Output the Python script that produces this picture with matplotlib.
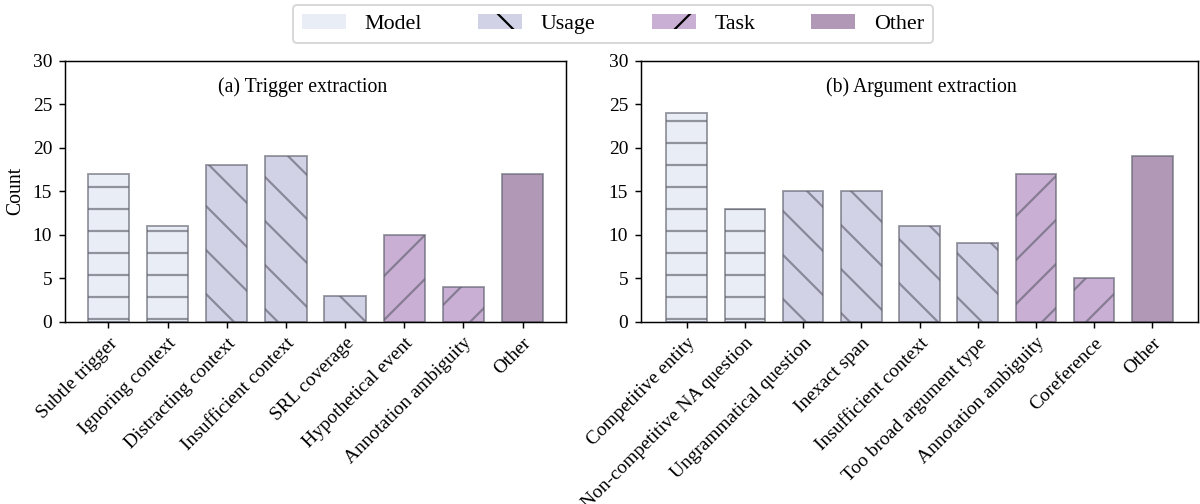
import matplotlib
matplotlib.use("Agg")
import matplotlib.pyplot as plt
from matplotlib.patches import Patch

plt.rcParams["font.family"] = ["Liberation Serif", "DejaVu Serif"]
plt.rcParams["hatch.linewidth"] = 1.2

# Error categories and counts
trigger_labels = ["Subtle trigger", "Ignoring context", "Distracting context",
                  "Insufficient context", "SRL coverage", "Hypothetical event",
                  "Annotation ambiguity", "Other"]
trigger_counts = [17, 11, 18, 19, 3, 10, 4, 17]
trigger_groups = ["Model", "Model", "Usage", "Usage", "Usage", "Task", "Task", "Other"]

argument_labels = ["Competitive entity", "Non-competitive NA question",
                   "Ungrammatical question", "Inexact span", "Insufficient context",
                   "Too broad argument type", "Annotation ambiguity", "Coreference",
                   "Other"]
argument_counts = [24, 13, 15, 15, 11, 9, 17, 5, 19]
argument_groups = ["Model", "Model", "Usage", "Usage", "Usage", "Usage", "Task", "Task", "Other"]

group_names = ["Model", "Usage", "Task", "Other"]
group_colors = {"Model": "#e9eef6", "Usage": "#d1d2e6", "Task": "#c9afd4", "Other": "#b198b6"}
group_hatches = {"Model": "-", "Usage": "\\", "Task": "/", "Other": ""}
edge = (0.38, 0.38, 0.43, 0.65)

W, H, DPI = 1200, 504, 132
fig = plt.figure(figsize=(W / DPI, H / DPI), dpi=DPI)

ax_a = fig.add_axes([65 / W, 1 - 321.7 / H, (566 - 65) / W, 261 / H])
ax_b = fig.add_axes([641 / W, 1 - 321.7 / H, (1198 - 641) / W, 261 / H])


def draw(ax, labels, counts, groups, title, title_x):
    x = list(range(len(labels)))
    bars = ax.bar(x, counts, width=0.7,
                  color=[group_colors[g] for g in groups],
                  edgecolor=edge, linewidth=1.0)
    for b, g in zip(bars, groups):
        b.set_hatch(group_hatches[g])
    ax.set_ylim(0, 30)
    ax.set_yticks(range(0, 31, 5))
    ax.set_xticks(x)
    ax.set_xticklabels(labels, rotation=45, ha="right", rotation_mode="anchor",
                       fontsize=10.6)
    ax.tick_params(axis="y", labelsize=10.6)
    ax.text(title_x, 0.899, title, transform=ax.transAxes, ha="center",
            va="center", fontsize=10.8)


draw(ax_a, trigger_labels, trigger_counts, trigger_groups,
     "(a) Trigger extraction", 0.475)
draw(ax_b, argument_labels, argument_counts, argument_groups,
     "(b) Argument extraction", 0.504)
ax_a.set_ylabel("Count", fontsize=10.8)

handles = [Patch(facecolor=group_colors[g], hatch=group_hatches[g],
                 edgecolor="black", linewidth=0, label=g) for g in group_names]
fig.legend(handles=handles, loc="upper center", ncol=4, fontsize=12,
           bbox_to_anchor=(613 / W, 1 - 5 / H), columnspacing=2.55,
           handletextpad=0.85, borderaxespad=0.0)

fig.savefig("out.png", dpi=DPI)
